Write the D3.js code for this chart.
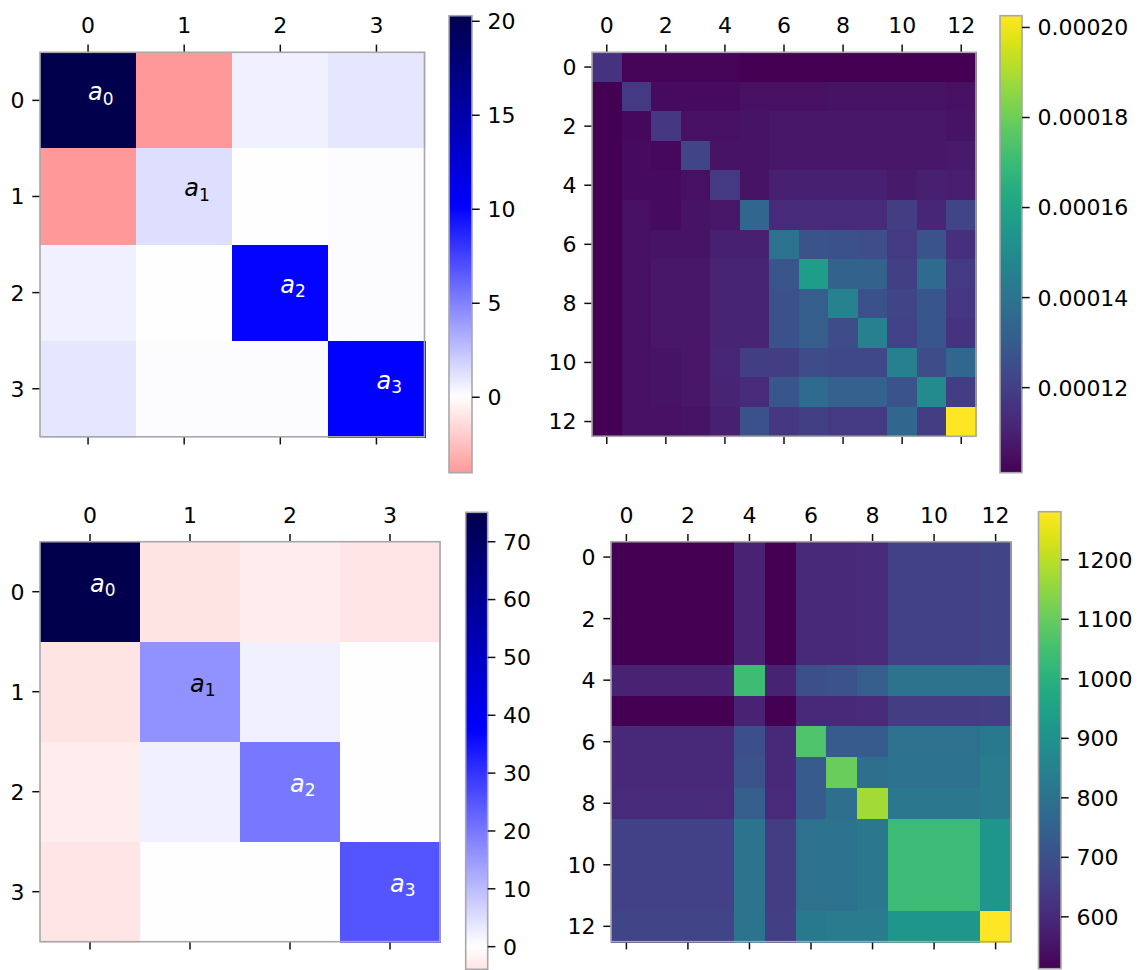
<!DOCTYPE html>
<html><head><meta charset="utf-8">
<script src="https://cdn.jsdelivr.net/npm/d3@7"></script>
<style>
body{margin:0;background:#fff;}
svg{display:block;}
text{font-family:"DejaVu Sans",sans-serif;}
</style>
</head><body>
<svg id="chart" width="1141" height="970"></svg>
<script>
// ---------- data ----------
const cats4 = [0, 1, 2, 3];
const cats13 = [0, 1, 2, 3, 4, 5, 6, 7, 8, 9, 10, 11, 12];
const axisTicks4 = [0, 1, 2, 3];
const axisTicks13 = [0, 2, 4, 6, 8, 10, 12];
const diagSubscripts = ["0", "1", "2", "3"];

// top-left matrix
const matA = [
  [20.27, -4.04, 0.6, 1.0],
  [-4.04, 1.3, 0.05, 0.1],
  [0.6, -0.05, 10.0, 0.1],
  [1.0, 0.1, 0.1, 10.1]
];
// top-right matrix (values in units of 1e-4)
const matB_e4 = [
  [1.16,1.02,1.02,1.02,1.02,1.01,1.01,1.01,1.01,1.01,1.01,1.01,1.01],
  [1.01,1.18,1.04,1.04,1.04,1.05,1.05,1.05,1.06,1.06,1.06,1.06,1.05],
  [1.01,1.03,1.17,1.05,1.05,1.06,1.07,1.07,1.07,1.07,1.07,1.07,1.06],
  [1.01,1.04,1.03,1.22,1.06,1.06,1.07,1.07,1.07,1.07,1.07,1.07,1.08],
  [1.01,1.04,1.04,1.05,1.18,1.06,1.10,1.10,1.10,1.10,1.08,1.10,1.09],
  [1.01,1.05,1.04,1.06,1.07,1.34,1.13,1.13,1.13,1.13,1.19,1.12,1.22],
  [1.01,1.05,1.06,1.06,1.10,1.10,1.39,1.27,1.26,1.25,1.18,1.27,1.15],
  [1.01,1.05,1.07,1.07,1.11,1.11,1.28,1.57,1.33,1.33,1.20,1.36,1.18],
  [1.01,1.05,1.07,1.07,1.11,1.11,1.26,1.31,1.46,1.26,1.22,1.28,1.17],
  [1.01,1.05,1.07,1.07,1.11,1.11,1.26,1.31,1.24,1.45,1.21,1.28,1.16],
  [1.01,1.05,1.06,1.07,1.12,1.19,1.19,1.24,1.23,1.23,1.45,1.24,1.34],
  [1.01,1.05,1.06,1.07,1.11,1.13,1.28,1.36,1.32,1.32,1.27,1.49,1.19],
  [1.01,1.05,1.05,1.06,1.10,1.26,1.17,1.20,1.18,1.18,1.34,1.19,2.025]
];
const matB = matB_e4.map(r => r.map(v => v * 1e-4));
// bottom-left matrix
const matC = [
  [75.0, -4.0, -2.6, -3.8],
  [-4.0, 16.2, 2.2, -0.1],
  [-2.6, 2.2, 19.9, 0.1],
  [-3.8, -0.1, 0.1, 25.0]
];
// bottom-right matrix
const matD = [
  [512,512,512,512,585,512,600,596,604,658,658,658,670],
  [512,512,512,512,585,512,600,596,604,658,658,658,670],
  [512,512,512,512,585,512,600,596,604,658,658,658,670],
  [512,512,512,512,585,512,600,596,604,658,658,658,670],
  [585,585,585,585,1042,585,697,704,738,804,804,804,804],
  [512,512,512,512,585,512,600,596,604,648,648,648,655],
  [600,600,600,600,697,600,1065,730,730,796,796,796,823],
  [596,596,596,596,704,596,730,1103,788,800,800,800,827],
  [604,604,604,604,738,604,730,788,1172,815,815,815,831],
  [658,658,658,658,804,648,796,800,815,1034,1034,1034,915],
  [658,658,658,658,804,648,796,800,815,1034,1034,1034,915],
  [658,658,658,658,804,648,796,800,815,1034,1034,1034,915],
  [670,670,670,670,804,655,823,827,831,915,915,915,1280]
];
const cbTicksA = [0, 5, 10, 15, 20];
const cbTicksB = [0.00012, 0.00014, 0.00016, 0.00018, 0.00020];
const cbTicksC = [0, 10, 20, 30, 40, 50, 60, 70];
const cbTicksD = [600, 700, 800, 900, 1000, 1100, 1200];

// ---------- colour maps ----------
const seismicStops = [
  [0.00, [0, 0, 0.3]],
  [0.25, [0, 0, 1]],
  [0.50, [1, 1, 1]],
  [0.75, [1, 0, 0]],
  [1.00, [0.5, 0, 0]]
];
function seismic(t) {
  t = Math.max(0, Math.min(1, t));
  for (let i = 0; i < seismicStops.length - 1; i++) {
    const [t0, c0] = seismicStops[i], [t1, c1] = seismicStops[i + 1];
    if (t <= t1) {
      const f = (t - t0) / (t1 - t0);
      const c = c0.map((v, k) => Math.round(255 * (v + (c1[k] - v) * f)));
      return `rgb(${c[0]},${c[1]},${c[2]})`;
    }
  }
  return "rgb(128,0,0)";
}
function divergingColor(mat) {
  const flat = mat.flat();
  const M = Math.max(Math.abs(d3.min(flat)), Math.abs(d3.max(flat)));
  const norm = d3.scaleLinear().domain([-M, M]).range([0, 1]);
  return v => seismic(1 - norm(v)); // seismic_r
}
function viridisColor(mat) {
  const flat = mat.flat();
  const norm = d3.scaleLinear().domain([d3.min(flat), d3.max(flat)]).range([0, 1]);
  return v => d3.interpolateViridis(norm(v));
}

// ---------- drawing ----------
const svg = d3.select("#chart");
const defs = svg.append("defs");
const TICK = 7.7, FS = 22, SPINE = "#a8a8a8";

function drawPanel(cfg) {
  const { id, mat, cats, ticks, x0, y0, size, cb, color, cbTicks, cbFormat, annotate } = cfg;
  const g = svg.append("g");
  const x = d3.scaleBand().domain(cats).range([x0, x0 + size]);
  const y = d3.scaleBand().domain(cats).range([y0, y0 + size]);

  // cells
  const cells = [];
  mat.forEach((row, r) => row.forEach((v, c) => cells.push({ r: cats[r], c: cats[c], v })));
  g.append("g").attr("shape-rendering", "crispEdges")
    .selectAll("rect.cell").data(cells).join("rect")
    .attr("class", "cell")
    .attr("x", d => x(d.c)).attr("y", d => y(d.r))
    .attr("width", x.bandwidth() + 1).attr("height", y.bandwidth() + 1)
    .attr("fill", d => color(d.v));

  // annotations on diagonal
  if (annotate) {
    const ann = g.selectAll("text.ann").data(diagSubscripts).join("text")
      .attr("class", "ann")
      .attr("x", (d, i) => x(cats[i]) + x.bandwidth() / 2)
      .attr("y", (d, i) => y(cats[i]) + y.bandwidth() / 2)
      .attr("fill", (d, i) => d3.lab(color(mat[i][i])).l > 60 ? "#000" : "#fff");
    ann.append("tspan").attr("font-style", "italic").attr("font-size", 24).text("a");
    ann.append("tspan").attr("font-size", 17).attr("dy", 4.5).text(d => d);
  }

  // axes
  const axT = g.append("g").attr("transform", `translate(0,${y0})`)
    .call(d3.axisTop(x).tickValues(ticks).tickSize(TICK).tickPadding(11.3));
  const axB = g.append("g").attr("transform", `translate(0,${y0 + size})`)
    .call(d3.axisBottom(x).tickValues(ticks).tickSize(TICK).tickFormat(""));
  const axL = g.append("g").attr("transform", `translate(${x0},0)`)
    .call(d3.axisLeft(y).tickValues(ticks).tickSize(TICK).tickPadding(7.7));
  axL.selectAll("text").attr("dy", "0.36em");
  [axT, axB, axL].forEach(a => {
    a.select(".domain").remove();
    a.selectAll("line").attr("stroke", "#111").attr("stroke-width", 1.5);
    a.selectAll("text").attr("font-size", FS).attr("fill", "#000")
      .attr("font-family", '"DejaVu Sans", sans-serif');
  });

  // spine
  g.append("rect").attr("x", x0).attr("y", y0).attr("width", size).attr("height", size)
    .attr("fill", "none").attr("stroke", SPINE).attr("stroke-width", 1.6);

  // colorbar
  const flat = mat.flat();
  const vmin = d3.min(flat), vmax = d3.max(flat);
  const grad = defs.append("linearGradient").attr("id", "grad" + id)
    .attr("x1", 0).attr("y1", 1).attr("x2", 0).attr("y2", 0);
  const N = 64;
  d3.range(N + 1).forEach(i => {
    grad.append("stop").attr("offset", i / N)
      .attr("stop-color", color(vmin + (vmax - vmin) * i / N));
  });
  g.append("rect").attr("x", cb.x).attr("y", cb.y).attr("width", cb.w).attr("height", cb.h)
    .attr("fill", `url(#grad${id})`)
    .attr("stroke", SPINE).attr("stroke-width", 1.6);
  const cs = d3.scaleLinear().domain([vmin, vmax]).range([cb.y + cb.h, cb.y]);
  const axC = g.append("g").attr("transform", `translate(${cb.x + cb.w},0)`)
    .call(d3.axisRight(cs).tickValues(cbTicks).tickSize(TICK).tickPadding(7.7).tickFormat(cbFormat));
  axC.select(".domain").remove();
  axC.selectAll("line").attr("stroke", "#111").attr("stroke-width", 1.5);
  axC.selectAll("text").attr("font-size", FS).attr("fill", "#000").attr("dy", "0.36em")
    .attr("font-family", '"DejaVu Sans", sans-serif');
}

drawPanel({
  id: "A", mat: matA, cats: cats4, ticks: axisTicks4,
  x0: 40, y0: 52.3, size: 384.5,
  cb: { x: 449, y: 15.7, w: 23, h: 457 },
  color: divergingColor(matA), cbTicks: cbTicksA, cbFormat: d3.format("d"), annotate: true
});
drawPanel({
  id: "B", mat: matB, cats: cats13, ticks: axisTicks13,
  x0: 592, y0: 52.3, size: 384,
  cb: { x: 1000, y: 15.7, w: 22, h: 457 },
  color: viridisColor(matB), cbTicks: cbTicksB, cbFormat: d3.format(".5f"), annotate: false
});
drawPanel({
  id: "C", mat: matC, cats: cats4, ticks: axisTicks4,
  x0: 40, y0: 541.7, size: 400,
  cb: { x: 465.7, y: 512.3, w: 22, h: 457 },
  color: divergingColor(matC), cbTicks: cbTicksC, cbFormat: d3.format("d"), annotate: true
});
drawPanel({
  id: "D", mat: matD, cats: cats13, ticks: axisTicks13,
  x0: 611, y0: 541.7, size: 400,
  cb: { x: 1038.5, y: 511.7, w: 22.5, h: 457 },
  color: viridisColor(matD), cbTicks: cbTicksD, cbFormat: d3.format("d"), annotate: false
});
</script>
</body></html>
